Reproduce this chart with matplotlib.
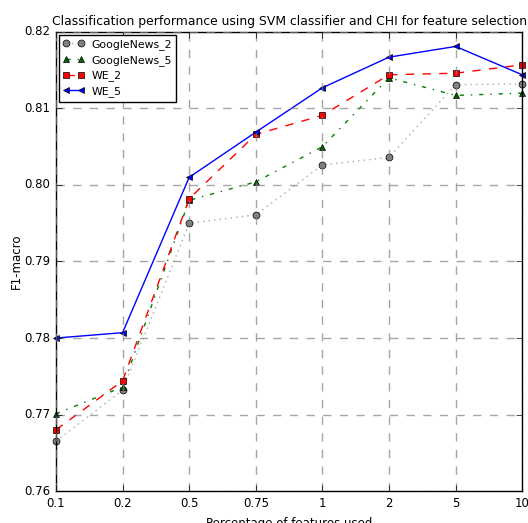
import matplotlib
matplotlib.use("Agg")
import matplotlib.pyplot as plt

plt.style.use('classic')

percentages = ['0.1', '0.2', '0.5', '0.75', '1', '2', '5', '10']
googlenews_2 = [0.7665, 0.7732, 0.7950, 0.7961, 0.8026, 0.8036, 0.8131, 0.8132]
googlenews_5 = [0.7701, 0.7736, 0.7980, 0.8004, 0.8050, 0.8140, 0.8117, 0.8120]
we_2 = [0.7680, 0.7744, 0.7982, 0.8066, 0.8091, 0.8144, 0.8146, 0.8157]
we_5 = [0.7800, 0.7807, 0.8010, 0.8069, 0.8127, 0.8167, 0.8181, 0.8144]

x = range(len(percentages))

fig = plt.figure(figsize=(5.28, 5.23), dpi=100)
ax = fig.add_axes([0.106, 0.061, 0.883, 0.878])

ax.plot(x, googlenews_2, ':', color='darkgray', marker='o', markerfacecolor='gray',
        markersize=5, label='GoogleNews_2', clip_on=False)
ax.plot(x, googlenews_5, '-.', color='green', marker='^', markerfacecolor='darkgreen',
        markersize=5, label='GoogleNews_5', clip_on=False)
ax.plot(x, we_2, '--', color='red', marker='s', markerfacecolor='red',
        markersize=5, label='WE_2', clip_on=False)
ax.plot(x, we_5, '-', color='blue', marker='<', markerfacecolor='blue',
        markersize=5, label='WE_5', clip_on=False)

ax.set_xlim(0, len(percentages) - 1)
ax.set_ylim(0.76, 0.82)
ax.set_xticks(list(x))
ax.set_xticklabels(percentages)
ax.set_yticks([0.76, 0.77, 0.78, 0.79, 0.80, 0.81, 0.82])
ax.set_yticklabels(['0.76', '0.77', '0.78', '0.79', '0.80', '0.81', '0.82'])
ax.tick_params(labelsize=8.5)
ax.grid(True, linestyle='--', color='gray', alpha=0.7, linewidth=1)

ax.set_title('Classification performance using SVM classifier and CHI for feature selection',
             fontsize=8.9)
ax.set_xlabel('Percentage of features used', fontsize=8.5)
ax.set_ylabel('F1-macro', fontsize=8.5, labelpad=1)

# legend sits tight in the corner
leg = ax.legend(loc='upper left', fontsize=7.8, numpoints=2, handlelength=2.0,
                handletextpad=0.6, borderaxespad=0.25, labelspacing=0.45)

fig.savefig('out.png', dpi=100)
